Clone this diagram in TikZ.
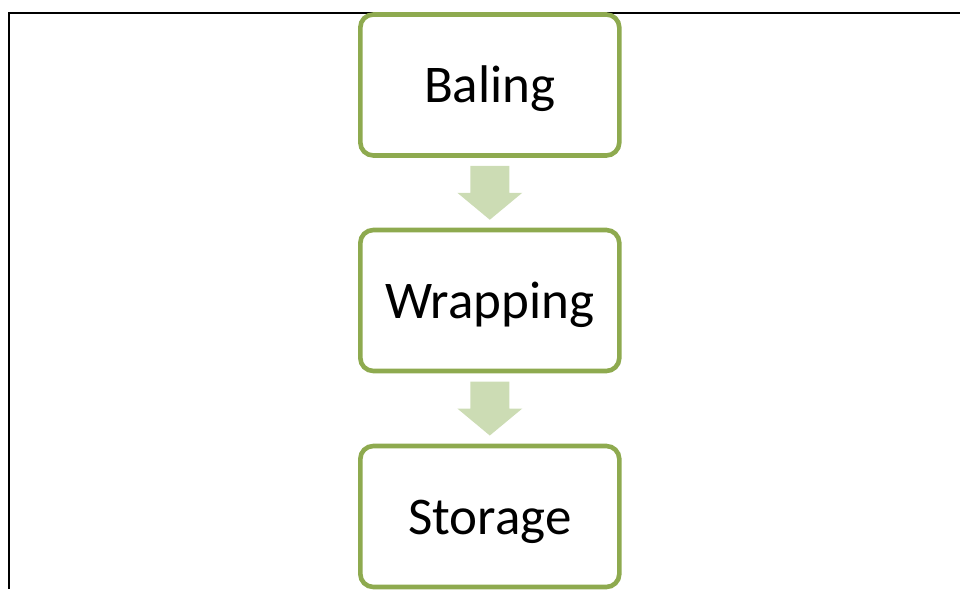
\documentclass[tikz,border=0pt]{standalone}
\usepackage{fontspec}
\setmainfont{Carlito}
\usepackage{xcolor}
\usetikzlibrary{calc}
\definecolor{stepgreen}{HTML}{8EAA4F}
\definecolor{steparrow}{HTML}{CCDCB4}
\tikzset{
  stepbox/.style={draw=stepgreen,line width=4.6pt,rounded corners=13pt,
    fill=white,minimum width=259pt,minimum height=141pt,inner sep=0pt,
    text height=35pt,text depth=0pt,
    font=\fontsize{53}{60}\selectfont},
  flowarrow/.style={fill=steparrow},
  frame/.style={draw=black,line width=1.4pt}
}

\begin{document}
\begin{tikzpicture}[x=1pt,y=-1pt]
  \useasboundingbox (0,0) rectangle (960,589);
  \draw[frame] (960,13) -- (9,13) -- (9,589);
  \node[stepbox] (baling) at (489.8,85) {Baling};
  \node[stepbox] (wrapping) at (489.8,300.5) {Wrapping};
  \node[stepbox] (storage) at (489.8,516.5) {Storage};
  % block arrows between the steps
  \foreach \a/\b in {baling/wrapping,wrapping/storage}
    \fill[flowarrow] ($(\a.south)!0.5!(\b.north)$) ++(-19.5,-27)
      -- ++(39,0) -- ++(0,27) -- ++(13,0) -- ++(-32.5,27)
      -- ++(-32.5,-27) -- ++(13,0) -- cycle;
\end{tikzpicture}
\end{document}
